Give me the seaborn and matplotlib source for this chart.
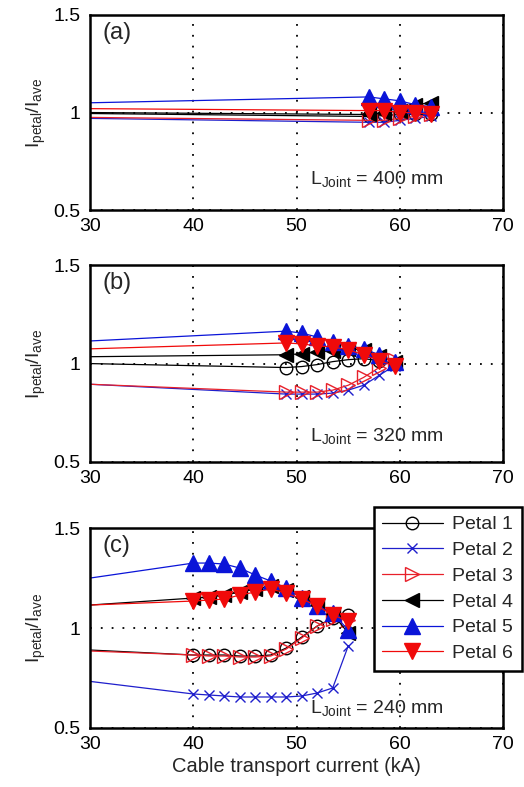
import matplotlib
matplotlib.use("Agg")
import matplotlib.pyplot as plt
import seaborn as sns

# Panel (a), L_Joint = 400 mm
x_a = [30, 57, 58.5, 60, 61.5, 63]
a_p1 = [0.995, 0.98, 0.985, 0.99, 0.99, 0.99]
a_p2 = [0.97, 0.95, 0.95, 0.96, 0.97, 0.98]
a_p3 = [0.975, 0.96, 0.96, 0.97, 0.98, 0.99]
a_p4 = [1.0, 0.99, 1.0, 1.01, 1.04, 1.05]
a_p5 = [1.05, 1.08, 1.07, 1.06, 1.04, 1.03]
a_p6 = [1.02, 1.01, 1.01, 1.0, 1.0, 0.99]

# Panel (b), L_Joint = 320 mm
x_b = [30, 49, 50.5, 52, 53.5, 55, 56.5, 58, 59.5]
b_p1 = [1.0, 0.98, 0.985, 0.995, 1.01, 1.02, 1.025, 1.015, 1.0]
b_p2 = [0.895, 0.845, 0.845, 0.845, 0.85, 0.865, 0.89, 0.94, 0.99]
b_p3 = [0.895, 0.855, 0.855, 0.855, 0.865, 0.89, 0.93, 0.98, 1.02]
b_p4 = [1.035, 1.045, 1.05, 1.06, 1.065, 1.075, 1.07, 1.04, 1.01]
b_p5 = [1.115, 1.165, 1.155, 1.135, 1.11, 1.09, 1.075, 1.045, 1.01]
b_p6 = [1.075, 1.105, 1.10, 1.09, 1.085, 1.07, 1.045, 1.015, 0.99]

# Panel (c), L_Joint = 240 mm
x_c = [30, 40, 41.5, 43, 44.5, 46, 47.5, 49, 50.5, 52, 53.5, 55]
c_p1 = [0.89, 0.865, 0.865, 0.865, 0.86, 0.86, 0.865, 0.9, 0.955, 1.01, 1.05, 1.065]
c_p2 = [0.733, 0.67, 0.665, 0.66, 0.655, 0.655, 0.655, 0.655, 0.66, 0.675, 0.70, 0.91]
c_p3 = [0.885, 0.865, 0.86, 0.86, 0.855, 0.855, 0.86, 0.895, 0.95, 1.01, 1.045, 1.04]
c_p4 = [1.115, 1.15, 1.155, 1.165, 1.18, 1.195, 1.21, 1.19, 1.155, 1.115, 1.07, 0.975]
c_p5 = [1.25, 1.325, 1.325, 1.32, 1.30, 1.265, 1.235, 1.2, 1.15, 1.11, 1.075, 0.99]
c_p6 = [1.115, 1.135, 1.14, 1.145, 1.165, 1.18, 1.195, 1.175, 1.145, 1.11, 1.065, 1.035]

petal_names = ["Petal 1", "Petal 2", "Petal 3", "Petal 4", "Petal 5", "Petal 6"]
panel_labels = ["(a)", "(b)", "(c)"]
joint_lengths = ["400", "320", "240"]
x_ticks = [30, 40, 50, 60, 70]
y_ticks = [0.5, 1, 1.5]
y_tick_labels = ["0.5", "1", "1.5"]

panels = [
    (x_a, [a_p1, a_p2, a_p3, a_p4, a_p5, a_p6]),
    (x_b, [b_p1, b_p2, b_p3, b_p4, b_p5, b_p6]),
    (x_c, [c_p1, c_p2, c_p3, c_p4, c_p5, c_p6]),
]

# marker styles per petal: (marker, color, filled, size)
styles = [
    ("o", "black", False, 9),
    ("x", "#1f1fcc", False, 7),
    (">", "#e8202a", False, 10),
    ("<", "black", True, 10),
    ("^", "#0a14d8", True, 11),
    ("v", "#f00a0a", True, 11),
]

sns.set_style("white")
plt.rcParams["font.family"] = ["Liberation Sans", "DejaVu Sans"]

fig = plt.figure(figsize=(5.24, 7.87), dpi=100)
boxes = [
    (0.172, 0.733, 0.788, 0.248),
    (0.172, 0.413, 0.788, 0.250),
    (0.172, 0.075, 0.788, 0.254),
]

handles = []
for i, (box, (xs, series)) in enumerate(zip(boxes, panels)):
    ax = fig.add_axes(box)
    for j, ys in enumerate(series):
        m, col, filled, ms = styles[j]
        sns.lineplot(x=xs, y=ys, ax=ax, color=col, linewidth=0.9,
                     marker=m, markersize=ms, markevery=list(range(1, len(xs))),
                     markerfacecolor=col if filled else "none",
                     markeredgecolor=col, markeredgewidth=1.0,
                     sort=False, estimator=None, label=petal_names[j])
    ax.set_xlim(30, 70)
    ax.set_ylim(0.5, 1.5)
    ax.set_xticks(x_ticks)
    ax.set_yticks(y_ticks)
    ax.set_yticklabels(y_tick_labels)
    ax.tick_params(length=0, labelsize=14, colors="black")
    ax.tick_params(axis="x", pad=6)
    ax.tick_params(axis="y", pad=7)
    ax.grid(True, color="black", linestyle=(0, (1, 5)), linewidth=1.3)
    for s in ax.spines.values():
        s.set_linewidth(1.8)
        s.set_color("black")
    ax.set_ylabel(r"$\mathregular{I_{petal}/I_{ave}}$", fontsize=14, labelpad=4)
    ax.text(0.03, 0.965, panel_labels[i], transform=ax.transAxes,
            fontsize=17, va="top", ha="left")
    ax.text(51.3, [0.66, 0.63, 0.60][i],
            r"$\mathregular{L_{Joint}}$ = " + joint_lengths[i] + " mm",
            fontsize=14, va="center", ha="left")
    if ax.get_legend() is not None:
        handles, labels = ax.get_legend_handles_labels()
        ax.get_legend().remove()
    if i == 2:
        ax.set_xlabel("Cable transport current (kA)", fontsize=14.5, labelpad=3)

leg = fig.legend(handles, petal_names, loc="upper right",
                 bbox_to_anchor=(522 / 524, 1 - 507 / 787), fontsize=14,
                 frameon=True, fancybox=False, framealpha=1, edgecolor="black",
                 handlelength=3.1, labelspacing=0.42, borderpad=0.45,
                 handletextpad=0.5, borderaxespad=0)
leg.get_frame().set_linewidth(1.8)

fig.savefig("out.png", dpi=100)
